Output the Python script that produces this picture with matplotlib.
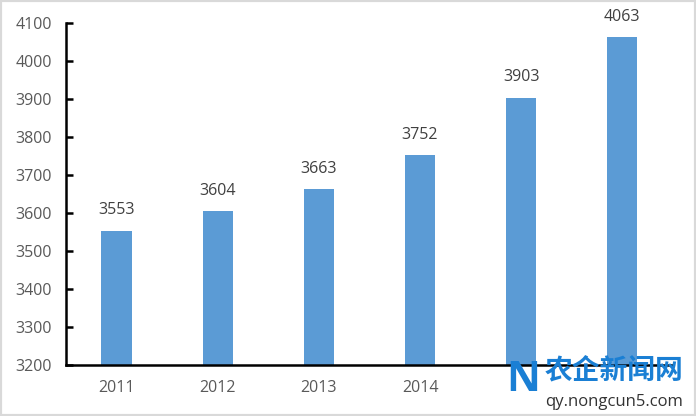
import matplotlib
matplotlib.use("Agg")
import matplotlib.pyplot as plt
from matplotlib.patches import Rectangle

years = ["2011", "2012", "2013", "2014", "2015", "2016"]
shown_labels = ["2011", "2012", "2013", "2014", "", ""]  # last two hidden under watermark
values = [3553, 3604, 3663, 3752, 3903, 4063]
yticks = [3200, 3300, 3400, 3500, 3600, 3700, 3800, 3900, 4000, 4100]

plt.rcParams['font.family'] = ['Open Sans', 'Noto Sans CJK SC', 'DejaVu Sans']

fig = plt.figure(figsize=(6.96, 4.16), dpi=100)
fig.patches.append(Rectangle((0, 0), 1, 1, transform=fig.transFigure, fill=False,
                             edgecolor='#d9d9d9', linewidth=3))
ax = fig.add_axes([0.0948, 0.1226, 0.872, 0.822])

x = list(range(len(years)))
ax.bar(x, values, width=0.3, color='#5B9BD5', zorder=2)
ax.set_ylim(3200, 4100)
ax.set_xlim(-0.5, len(years) - 0.5)
ax.set_yticks(yticks)
ax.set_xticks(x)
ax.set_xticklabels(shown_labels)

for xi, v in zip(x, values):
    ax.annotate(str(v), (xi, v), xytext=(0, 9), textcoords='offset points',
                ha='center', va='bottom', fontsize=11.5, color='#404040')

for s in ['top', 'right']:
    ax.spines[s].set_visible(False)
for s in ['left', 'bottom']:
    ax.spines[s].set_linewidth(1.8)
    ax.spines[s].set_color('black')

ax.tick_params(axis='y', direction='in', length=5, width=1.8, labelsize=11.5,
               labelcolor='#595959', pad=10)
ax.tick_params(axis='x', length=0, labelsize=11.5, labelcolor='#595959', pad=11)

# watermark
fig.text(0.783, 0.11, "\u519c\u4f01\u65b0\u95fb\u7f51", fontsize=20, fontweight='bold',
         color='#1a7fd4', ha='left', va='center',
         family=['Noto Sans CJK SC', 'DejaVu Sans'])
fig.text(0.783, 0.033, "qy.nongcun5.com", fontsize=12, color='#333333',
         ha='left', va='center')
fig.text(0.752, 0.085, "N", fontsize=30, fontweight='bold', color='#1a7fd4',
         ha='center', va='center')

fig.savefig("out.png", dpi=100)
